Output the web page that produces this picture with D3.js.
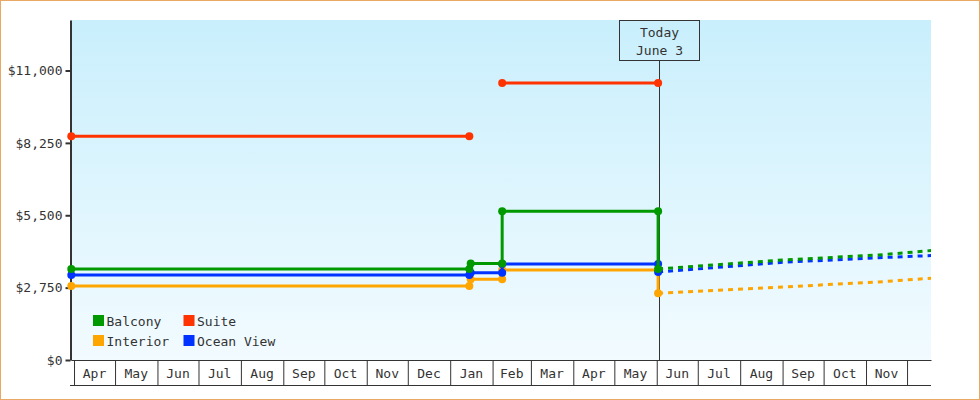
<!DOCTYPE html>
<html>
<head>
<meta charset="utf-8">
<script src="https://cdn.jsdelivr.net/npm/d3@7"></script>
<style>
  body { margin: 0; background: #fff; }
  svg { display: block; font-family: 'DejaVu Sans Mono', monospace; font-size: 13px; }
  .frame { fill: none; stroke: #e9a964; }
  .axis path, .axis line { stroke: #333; }
  .axis text { fill: #333; font-family: 'DejaVu Sans Mono', monospace; font-size: 13px; }
  .y-axis path, .y-axis line { stroke-width: 2; }
  .month-label { fill: #333; text-anchor: middle; }
  .today-line, .today-box { stroke: #333; fill: none; }
  .today-text { fill: #333; text-anchor: middle; }
  .legend text { fill: #333; }
  .price-line { fill: none; stroke-width: 3; stroke-linejoin: round; }
  .projection { stroke-dasharray: 5, 5; }
</style>
</head>
<body>
<script>
'use strict';

const parseDate = d3.timeParse('%Y-%m-%d');
const parseTime = d3.timeParse('%Y-%m-%dT%H:%M');

// price history, one pair of arrays per cabin type (null = gap)
const interiorDates = ['2014-03-30', '2015-01-15', '2015-01-16', '2015-02-08', '2015-02-08', '2015-06-02', '2015-06-02'];
const interiorPrices = [2810, 2810, 3070, 3070, 3420, 3420, 2535];

const oceanViewDates = ['2014-03-30', '2015-01-15', '2015-01-16', '2015-02-08', '2015-02-08', '2015-06-02', '2015-06-02'];
const oceanViewPrices = [3230, 3230, 3320, 3320, 3650, 3650, 3345];

const suiteDates = ['2014-03-30', '2015-01-15', null, '2015-02-08', '2015-06-02'];
const suitePrices = [8500, 8500, null, 10530, 10530];

const balconyDates = ['2014-03-30', '2015-01-15', '2015-01-16', '2015-02-08', '2015-02-08', '2015-06-02', '2015-06-02'];
const balconyPrices = [3460, 3460, 3670, 3670, 5650, 5650, 3460];

// projected prices after today
const interiorProjDates = ['2015-06-02', '2015-09-01', '2015-11-10', '2015-12-19'];
const interiorProjPrices = [2535, 2775, 2965, 3110];

const oceanViewProjDates = ['2015-06-02', '2015-09-01', '2015-11-10', '2015-12-19'];
const oceanViewProjPrices = [3345, 3713, 3885, 3970];

const balconyProjDates = ['2015-06-02', '2015-09-01', '2015-11-10', '2015-12-19'];
const balconyProjPrices = [3460, 3800, 3990, 4160];

const priceTicks = [0, 2750, 5500, 8250, 11000];
const priceMax = 12920;

const monthLabels = ['Apr', 'May', 'Jun', 'Jul', 'Aug', 'Sep', 'Oct', 'Nov', 'Dec', 'Jan', 'Feb',
  'Mar', 'Apr', 'May', 'Jun', 'Jul', 'Aug', 'Sep', 'Oct', 'Nov', ''];

const dateStart = '2014-03-29T19:00';
const dateEnd = '2015-12-18T12:00';

const todayDate = '2015-06-03';
const todayLines = ['Today', 'June 3'];

const legendNames = ['Balcony', 'Suite', 'Interior', 'Ocean View'];

const colors = {
  'Interior': '#ffa500',
  'Ocean View': '#0033ff',
  'Suite': '#ff3300',
  'Balcony': '#009900'
};

const width = 980;
const height = 400;
const plot = {left: 71, right: 931, top: 20, bottom: 360};
const axisBoxHeight = 25;

function toPoints(dates, prices) {
  return dates.map((d, i) => ({x: d === null ? null : parseDate(d), y: prices[i]}));
}

const series = [
  {name: 'Interior', points: toPoints(interiorDates, interiorPrices), proj: toPoints(interiorProjDates, interiorProjPrices)},
  {name: 'Ocean View', points: toPoints(oceanViewDates, oceanViewPrices), proj: toPoints(oceanViewProjDates, oceanViewProjPrices)},
  {name: 'Suite', points: toPoints(suiteDates, suitePrices), proj: []},
  {name: 'Balcony', points: toPoints(balconyDates, balconyPrices), proj: toPoints(balconyProjDates, balconyProjPrices)}
];

const xScale = d3.scaleTime()
  .domain([parseTime(dateStart), parseTime(dateEnd)])
  .range([plot.left, plot.right]);

const yScale = d3.scaleLinear()
  .domain([0, priceMax])
  .range([plot.bottom, plot.top]);

const lineGenerator = d3.line()
  .defined(d => d.y !== null)
  .x(d => xScale(d.x))
  .y(d => yScale(d.y));

const svg = d3.select('body').append('svg')
  .attr('width', width)
  .attr('height', height);

const defs = svg.append('defs');

const gradient = defs.append('linearGradient')
  .attr('id', 'bg')
  .attr('x1', 0).attr('y1', 0)
  .attr('x2', 0).attr('y2', 1);
gradient.append('stop').attr('offset', '0%').attr('stop-color', '#c9effc');
gradient.append('stop').attr('offset', '100%').attr('stop-color', '#f2fbff');

defs.append('clipPath').attr('id', 'plot-clip')
  .append('rect')
  .attr('x', plot.left)
  .attr('y', plot.top - 10)
  .attr('width', plot.right - plot.left)
  .attr('height', plot.bottom - plot.top + 20);

svg.append('rect')
  .attr('class', 'frame')
  .attr('x', 0.5)
  .attr('y', 0.5)
  .attr('width', width - 1)
  .attr('height', height - 1);

svg.append('rect')
  .attr('x', plot.left)
  .attr('y', plot.top)
  .attr('width', plot.right - plot.left)
  .attr('height', plot.bottom - plot.top)
  .attr('fill', 'url(#bg)');

// today marker
const todayX = Math.round(xScale(parseDate(todayDate))) + 0.5;

svg.append('line')
  .attr('class', 'today-line')
  .attr('x1', todayX).attr('x2', todayX)
  .attr('y1', plot.top + 40.5).attr('y2', plot.bottom);

svg.append('rect')
  .attr('class', 'today-box')
  .attr('x', todayX - 40)
  .attr('y', plot.top + 0.5)
  .attr('width', 80)
  .attr('height', 40);

svg.append('text')
  .attr('class', 'today-text')
  .attr('x', todayX)
  .selectAll('tspan')
  .data(todayLines)
  .enter()
  .append('tspan')
  .attr('x', todayX)
  .attr('y', (d, i) => plot.top + 17 + i * 18)
  .text(d => d);

// x axis: one box per month
const monthStarts = d3.timeMonth.range(d3.timeMonth.ceil(xScale.domain()[0]), xScale.domain()[1]);

const xAxisGenerator = d3.axisBottom(xScale)
  .tickValues(monthStarts)
  .tickSize(axisBoxHeight)
  .tickSizeOuter(0)
  .tickFormat('');

svg.append('g')
  .attr('class', 'axis x-axis')
  .attr('transform', 'translate(0,' + plot.bottom + ')')
  .call(xAxisGenerator);

svg.append('line')
  .attr('stroke', '#333')
  .attr('x1', plot.left - 1).attr('x2', plot.right)
  .attr('y1', plot.bottom + axisBoxHeight + 0.5)
  .attr('y2', plot.bottom + axisBoxHeight + 0.5);

svg.append('g')
  .selectAll('text')
  .data(monthStarts)
  .enter()
  .append('text')
  .attr('class', 'month-label')
  .attr('x', d => (xScale(d) + xScale(d3.min([d3.timeMonth.offset(d, 1), xScale.domain()[1]]))) / 2)
  .attr('y', plot.bottom + 18)
  .text((d, i) => monthLabels[i]);

// y axis
const yAxisGenerator = d3.axisLeft(yScale)
  .tickValues(priceTicks)
  .tickFormat(d3.format('$,'))
  .tickSize(5)
  .tickSizeOuter(0);

svg.append('g')
  .attr('class', 'axis y-axis')
  .attr('transform', 'translate(' + (plot.left - 0.5) + ',0)')
  .call(yAxisGenerator);

// price lines
const lines = svg.append('g');

series.forEach(s => {
  lines.append('path')
    .datum(s.proj)
    .attr('class', 'price-line projection')
    .attr('clip-path', 'url(#plot-clip)')
    .attr('stroke', colors[s.name])
    .attr('d', lineGenerator);
});

series.forEach(s => {
  lines.append('path')
    .datum(s.points)
    .attr('class', 'price-line')
    .attr('stroke', colors[s.name])
    .attr('d', lineGenerator);

  lines.append('g')
    .selectAll('circle')
    .data(s.points.filter(d => d.y !== null))
    .enter()
    .append('circle')
    .attr('r', 4)
    .attr('fill', colors[s.name])
    .attr('cx', d => xScale(d.x))
    .attr('cy', d => yScale(d.y));
});

// legend
const legend = svg.append('g')
  .attr('class', 'legend')
  .attr('transform', 'translate(93,315)');

const legendItems = legend.selectAll('g')
  .data(legendNames)
  .enter()
  .append('g')
  .attr('transform', (d, i) => 'translate(' + [(i % 2) * 90.5, Math.floor(i / 2) * 20] + ')');

legendItems.append('rect')
  .attr('width', 11)
  .attr('height', 11)
  .attr('fill', d => colors[d]);

legendItems.append('text')
  .attr('x', 13.5)
  .attr('y', 10.5)
  .text(d => d);
</script>
</body>
</html>
